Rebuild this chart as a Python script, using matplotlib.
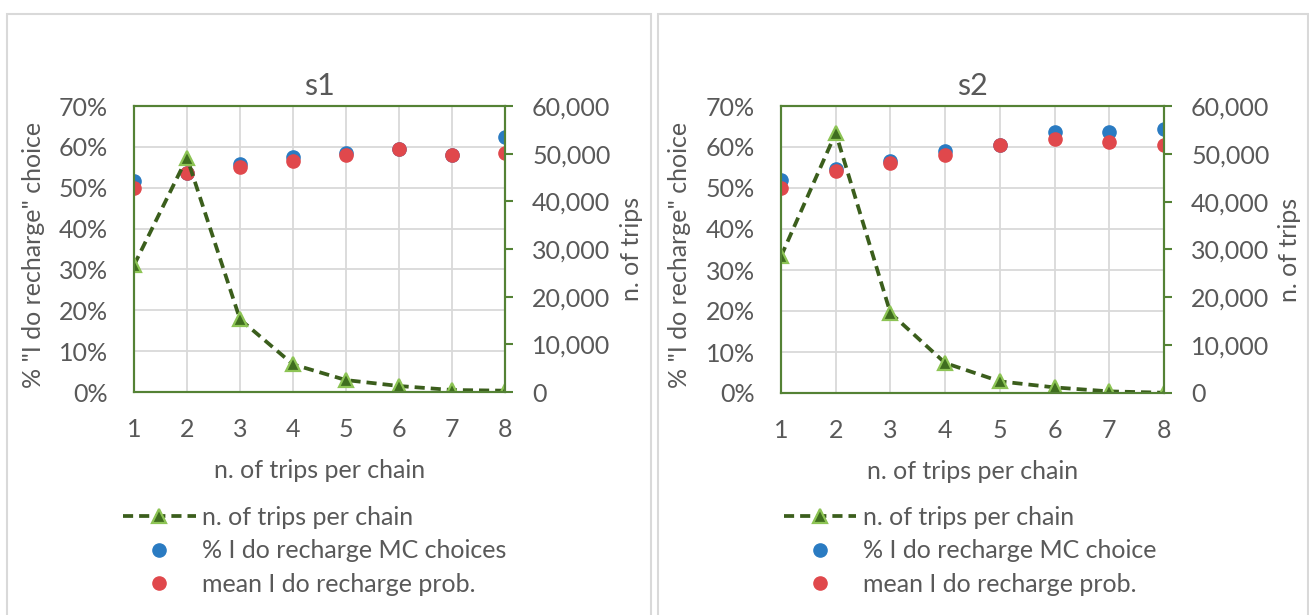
import matplotlib
matplotlib.use("Agg")
import matplotlib.pyplot as plt
from matplotlib.patches import Rectangle
from matplotlib.ticker import FuncFormatter, MultipleLocator

plt.rcParams['font.family'] = ['Lato', 'DejaVu Sans']

trips_per_chain = [1, 2, 3, 4, 5, 6, 7, 8]

# s1
s1_trips = [26600, 49150, 15250, 5800, 2500, 1260, 420, 280]
s1_mc_choice = [0.517, 0.537, 0.558, 0.576, 0.586, 0.595, 0.579, 0.623]
s1_mean_prob = [0.500, 0.535, 0.550, 0.565, 0.580, 0.594, 0.579, 0.584]

# s2
s2_trips = [28560, 54360, 16720, 6270, 2430, 1170, 340, 60]
s2_mc_choice = [0.519, 0.547, 0.567, 0.591, 0.606, 0.637, 0.637, 0.645]
s2_mean_prob = [0.501, 0.542, 0.561, 0.580, 0.606, 0.620, 0.611, 0.606]

GREEN_AXIS = '#548235'
LINE_GREEN = '#3b5e1c'
TRI_FILL = '#3f6e1f'
TRI_EDGE = '#8dc455'
BLUE = '#2a7bc2'
RED = '#e0484c'
GRID = '#d9d9d9'
TXT = '#595959'
FS = 18

W, H = 1309, 615
fig = plt.figure(figsize=(W / 100, H / 100), dpi=100)

# panel frames
for x0, x1 in [(7, 651), (658, 1308)]:
    fig.patches.append(Rectangle((x0 / W, -0.05), (x1 - x0) / W, 1.05 - 14 / H,
                                 transform=fig.transFigure, fill=False,
                                 edgecolor='#d9d9d9', lw=1.5))


def panel(box, title, trips, mc, prob, mc_label, ylab_x, y2lab_x, leg_xy):
    l, r, t, b = box
    ax = fig.add_axes([l / W, 1 - b / H, (r - l) / W, (b - t) / H])
    ax2 = ax.twinx()

    ax.plot(trips_per_chain, mc, 'o', color=BLUE, ms=9.5, label=mc_label)
    ax.plot(trips_per_chain, prob, 'o', color=RED, ms=9.5,
            label='mean I do recharge prob.')
    line, = ax2.plot(trips_per_chain, trips, linestyle=(0, (2.7, 1.6)),
                     color=LINE_GREEN, lw=2.7, marker='^', ms=10.5,
                     markerfacecolor=TRI_FILL, markeredgecolor=TRI_EDGE,
                     markeredgewidth=1.6, label='n. of trips per chain')

    ax.set_xlim(1, 8)
    ax.set_ylim(0, 0.7)
    ax2.set_ylim(0, 60000)
    ax.set_xticks(trips_per_chain)
    ax.yaxis.set_major_locator(MultipleLocator(0.1))
    ax.yaxis.set_major_formatter(FuncFormatter(lambda v, p: f'{v * 100:.0f}%'))
    ax2.yaxis.set_major_locator(MultipleLocator(10000))
    ax2.yaxis.set_major_formatter(FuncFormatter(lambda v, p: f'{v:,.0f}'))

    ax.grid(True, color=GRID, lw=1.3)
    ax.set_axisbelow(True)
    for a in (ax, ax2):
        for s in a.spines.values():
            s.set_color(GREEN_AXIS)
            s.set_linewidth(1.5)
    ax.tick_params(axis='both', length=0, labelsize=FS, labelcolor=TXT)
    ax.tick_params(axis='y', pad=19)
    ax.tick_params(axis='x', pad=19)
    ax2.tick_params(axis='y', length=6, width=1.5, color=GREEN_AXIS,
                    labelsize=FS, labelcolor=TXT, pad=13.5)

    ax.set_title(title, fontsize=22, color=TXT, pad=8)
    ax.set_xlabel('n. of trips per chain', fontsize=FS, color=TXT)
    ax.xaxis.label.set_va('center')
    ax.xaxis.set_label_coords(0.5, -0.273)
    ax.set_ylabel('% "I do recharge" choice', fontsize=FS, color=TXT)
    ax.yaxis.set_label_coords(ylab_x, 0.48)
    ax2.set_ylabel('n. of trips', fontsize=FS, color=TXT, rotation=90)
    ax2.yaxis.set_label_coords(y2lab_x, 0.5)

    h1, l1 = ax.get_legend_handles_labels()
    fig.legend([line] + h1, [line.get_label()] + l1, loc='upper left',
               bbox_to_anchor=(leg_xy[0] / W, 1 - leg_xy[1] / H),
               frameon=False, fontsize=FS, labelcolor=TXT, borderpad=0,
               borderaxespad=0, handlelength=2.9, handletextpad=0.25,
               labelspacing=0.42, numpoints=1)


panel((134, 505, 106, 392), 's1', s1_trips, s1_mc_choice, s1_mean_prob,
      '% I do recharge MC choices', -0.24, 1.31, (123, 506))
panel((781, 1164, 106, 393), 's2', s2_trips, s2_mc_choice, s2_mean_prob,
      '% I do recharge MC choice', -0.235, 1.298, (784, 506))

fig.savefig('out.png', dpi=100)
